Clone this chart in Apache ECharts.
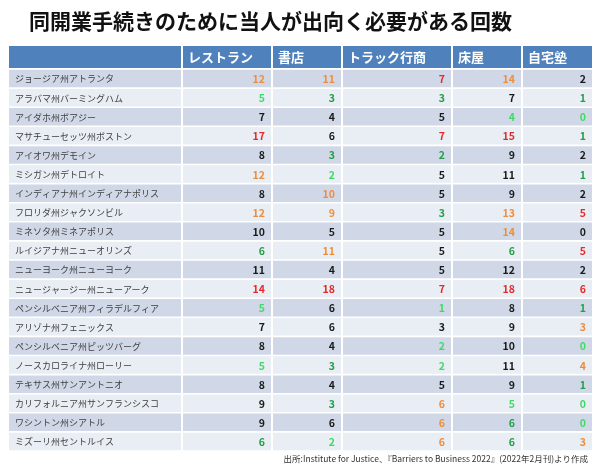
<!DOCTYPE html>
<html>
<head>
<meta charset="utf-8">
<script src="https://cdn.jsdelivr.net/npm/echarts@6/dist/echarts.min.js"></script>
<style>html,body{margin:0;padding:0;background:#fff}#chart{width:600px;height:473px}</style>
</head>
<body>
<div id="chart"></div>
<script>
// ---- data ----
const titleText = '同開業手続きのために当人が出向く必要がある回数';
const sourceText = '出所:Institute for Justice、『Barriers to Business 2022』(2022年2月刊)より作成';
const columns = ['レストラン', '書店', 'トラック行商', '床屋', '自宅塾'];
const cities = [
  'ジョージア州アトランタ', 'アラバマ州バーミングハム', 'アイダホ州ボアジー', 'マサチューセッツ州ボストン',
  'アイオワ州デモイン', 'ミシガン州デトロイト', 'インディアナ州インディアナポリス', 'フロリダ州ジャクソンビル',
  'ミネソタ州ミネアポリス', 'ルイジアナ州ニューオリンズ', 'ニューヨーク州ニューヨーク', 'ニュージャージー州ニューアーク',
  'ペンシルベニア州フィラデルフィア', 'アリゾナ州フェニックス', 'ペンシルベニア州ピッツバーグ', 'ノースカロライナ州ローリー',
  'テキサス州サンアントニオ', 'カリフォルニア州サンフランシスコ', 'ワシントン州シアトル', 'ミズーリ州セントルイス'
];
const restaurant = [12, 5, 7, 17, 8, 12, 8, 12, 10, 6, 11, 14, 5, 7, 8, 5, 8, 9, 9, 6];
const bookstore  = [11, 3, 4, 6, 3, 2, 10, 9, 5, 11, 4, 18, 6, 6, 4, 3, 4, 3, 6, 2];
const truck      = [7, 3, 5, 7, 2, 5, 5, 3, 5, 5, 5, 7, 1, 3, 2, 2, 5, 6, 6, 6];
const barber     = [14, 7, 4, 15, 9, 11, 9, 13, 14, 6, 12, 18, 8, 9, 10, 11, 9, 5, 6, 6];
const homeTutor  = [2, 1, 0, 1, 2, 1, 2, 5, 0, 5, 2, 6, 1, 3, 0, 4, 1, 0, 0, 3];
// highlight class per cell: R=most, O=many, G=few, L=fewest, ''=normal
const restaurantMark = ['O','L','','R','','O','','O','','G','','R','L','','','L','','','','G'];
const bookstoreMark  = ['O','G','','','G','L','O','O','','O','','R','','','','G','','G','','L'];
const truckMark      = ['R','G','','R','G','','','G','','','','R','L','','L','L','','O','O','O'];
const barberMark     = ['O','','L','R','','','','O','O','G','','R','','','','','','L','G','G'];
const homeTutorMark  = ['','G','L','G','','G','','R','','R','','R','G','O','L','O','G','L','L','O'];

const values = [restaurant, bookstore, truck, barber, homeTutor];
const marks = [restaurantMark, bookstoreMark, truckMark, barberMark, homeTutorMark];

// ---- layout / style ----
const colEdges = [0, 174, 264, 334, 444, 514, 585];
const markColor = { R: '#E52A2A', O: '#EE8E3A', G: '#22A048', L: '#3DDB66', '': '#1A1A1A' };
const FONT = '"Noto Sans CJK JP", "Noto Sans", sans-serif';
const headerH = 23;

const cellData = [];
const cellInfo = [];
cities.forEach((c, i) => {
  cellData.push([0, i]); cellInfo.push({ text: c, color: '#404040', label: true });
  for (let j = 0; j < columns.length; j++) {
    cellData.push([j + 1, i]);
    cellInfo.push({ text: String(values[j][i]), color: markColor[marks[j][i]], label: false });
  }
});
const headerData = [[0], [1], [2], [3], [4], [5]];
const headerText = [''].concat(columns);

const chart = echarts.init(document.getElementById('chart'), null, { renderer: 'canvas' });
chart.setOption({
  backgroundColor: '#ffffff',
  animation: false,
  title: [
    { text: titleText, left: 24, top: 6,
      textStyle: { fontSize: 21, fontWeight: 'bold', color: '#111', fontFamily: FONT } },
    { text: sourceText, right: 7, top: 450,
      textStyle: { fontSize: 8.5, fontWeight: 'normal', color: '#333', fontFamily: FONT } }
  ],
  grid: { left: 8, right: 7, top: 69, bottom: 22 },
  xAxis: { type: 'value', min: 0, max: colEdges[colEdges.length - 1], show: false },
  yAxis: { type: 'category', data: cities, inverse: true, show: false },
  series: [
    {
      type: 'custom', clip: false, data: cellData,
      renderItem: function (params, api) {
        const j = api.value(0), i = api.value(1);
        const band = api.size([0, 1])[1];
        const p0 = api.coord([colEdges[j], i]);
        const p1 = api.coord([colEdges[j + 1], i]);
        const info = cellInfo[params.dataIndex];
        const fill = i % 2 === 0 ? '#D0D8E8' : '#E9EDF4';
        const yTop = p0[1] - band / 2;
        return {
          type: 'group',
          children: [
            { type: 'rect', shape: { x: p0[0] + 1, y: yTop + 0.8, width: p1[0] - p0[0] - 2, height: band - 1.6 },
              style: { fill: fill } },
            { type: 'text',
              style: {
                text: info.text,
                x: info.label ? p0[0] + 7 : p1[0] - 7,
                y: p0[1] + 0.5,
                textAlign: info.label ? 'left' : 'right',
                textVerticalAlign: 'middle',
                fill: info.color,
                font: (info.label ? 'normal 9px ' : 'bold 10.5px ') + FONT
              } }
          ]
        };
      }
    },
    {
      type: 'custom', clip: false, data: headerData,
      renderItem: function (params, api) {
        const j = api.value(0);
        const top = params.coordSys.y;
        const p0 = api.coord([colEdges[j], 0]);
        const p1 = api.coord([colEdges[j + 1], 0]);
        return {
          type: 'group',
          children: [
            { type: 'rect', shape: { x: p0[0] + 1, y: top - headerH, width: p1[0] - p0[0] - 2, height: headerH - 1 },
              style: { fill: '#4F81BD' } },
            { type: 'text',
              style: {
                text: headerText[j], x: p0[0] + 6, y: top - headerH / 2,
                textAlign: 'left', textVerticalAlign: 'middle',
                fill: '#ffffff', font: 'bold 13px ' + FONT
              } }
          ]
        };
      }
    }
  ]
});
</script>
</body>
</html>
